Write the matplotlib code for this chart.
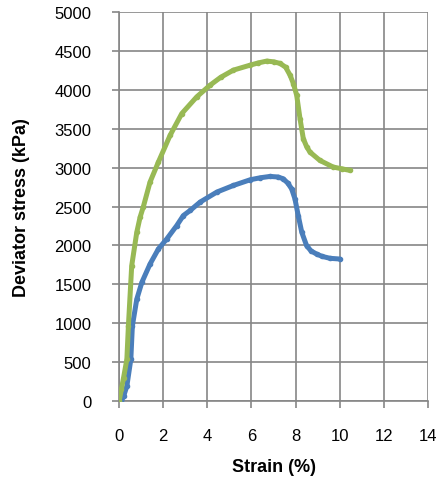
import matplotlib
matplotlib.use("Agg")
import matplotlib.pyplot as plt

# Strain (%) / deviator stress (kPa)
strain_green = [0.0, 0.1, 0.2, 0.35, 0.42, 0.57, 0.8, 0.95, 1.1, 1.4, 1.78, 2.31,
                2.84, 3.52, 4.12, 4.6, 5.18, 5.94, 6.3, 6.69, 7.0, 7.3, 7.55, 7.75,
                7.9, 8.05, 8.2, 8.35, 8.5, 8.65, 9.1, 9.7, 10.1, 10.47]
stress_green = [0, 150, 300, 537, 966, 1740, 2170, 2363, 2500, 2814, 3072, 3415,
                3695, 3910, 4059, 4160, 4253, 4317, 4345, 4369, 4360, 4339, 4290, 4188,
                4080, 3930, 3630, 3372, 3270, 3200, 3093, 3008, 2985, 2964]

strain_blue = [0.1, 0.2, 0.35, 0.53, 0.6, 0.8, 1.03, 1.4, 1.78, 2.16, 2.61, 2.91,
               3.22, 3.67, 4.43, 5.18, 5.94, 6.4, 6.84, 7.2, 7.44, 7.65, 7.82, 7.97,
               8.12, 8.28, 8.5, 8.7, 8.95, 9.2, 9.56, 10.0]
stress_blue = [0, 60, 193, 537, 966, 1310, 1526, 1761, 1955, 2084, 2255, 2384,
               2450, 2557, 2686, 2771, 2844, 2870, 2887, 2880, 2857, 2800, 2728, 2600,
               2384, 2170, 1997, 1930, 1890, 1860, 1835, 1826]

plt.rcParams['font.family'] = ['Liberation Sans', 'DejaVu Sans']

fig = plt.figure(figsize=(4.38, 4.81), dpi=100)
ax = fig.add_axes([0.272, 0.164, 0.705, 0.809])

ax.plot(strain_blue, stress_blue, color='#4A7EBB', linewidth=3.6,
        marker='o', markersize=3, solid_capstyle='round', zorder=3)
ax.plot(strain_green, stress_green, color='#98B954', linewidth=3.6,
        marker='o', markersize=3, solid_capstyle='round', zorder=3)

ax.set_xlim(0, 14)
ax.set_ylim(0, 5000)
ax.set_xticks(range(0, 15, 2))
ax.set_yticks(range(0, 5001, 500))
ax.grid(True, color='#868686', linewidth=1.2)
ax.set_axisbelow(True)

for side in ['top', 'right']:
    ax.spines[side].set_visible(False)
for side in ['left', 'bottom']:
    ax.spines[side].set_color('#868686')
    ax.spines[side].set_linewidth(1.2)

ax.tick_params(axis='both', labelsize=12, color='#868686', length=5, width=1.2)
ax.tick_params(axis='x', pad=14)
ax.tick_params(axis='y', pad=15)

ax.set_xlabel('Strain (%)', fontsize=13, fontweight='bold')
ax.set_ylabel('Deviator stress (kPa)', fontsize=13, fontweight='bold')
ax.xaxis.set_label_coords(0.5, -0.145)
ax.yaxis.set_label_coords(-0.29, 0.5)

plt.savefig('out.png', dpi=100)
plt.close()
